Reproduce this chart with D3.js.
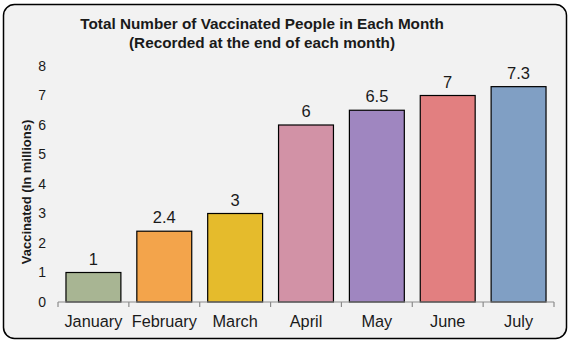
<!DOCTYPE html>
<html>
<head>
<meta charset="utf-8">
<script src="https://cdn.jsdelivr.net/npm/d3@7/dist/d3.min.js"></script>
<style>
  html, body { margin: 0; padding: 0; background: #ffffff; }
  svg { display: block; font-family: Arial, "Liberation Sans", sans-serif; }
</style>
</head>
<body>
<svg id="chart" width="570" height="344"></svg>
<script>
// Monthly totals of vaccinated people (millions)
const months = ["January", "February", "March", "April", "May", "June", "July"];
const vaccinated = [1, 2.4, 3, 6, 6.5, 7, 7.3];
const barColors = ["#a8b593", "#f3a44b", "#e5bb2c", "#d292a6", "#9f86c0", "#e27f80", "#809fc4"];
const yTicks = [0, 1, 2, 3, 4, 5, 6, 7, 8];
const titleLines = ["Total Number of Vaccinated People in Each Month", "(Recorded at the end of each month)"];
const yTitle = "Vaccinated (In millions)";

const svg = d3.select("#chart");

// Rounded frame
svg.append("rect")
  .attr("x", 3.5).attr("y", 4.5)
  .attr("width", 563).attr("height", 334)
  .attr("rx", 11).attr("ry", 11)
  .attr("fill", "#f2f2f2")
  .attr("stroke", "#000").attr("stroke-width", 1.5);

const x = d3.scaleBand()
  .domain(months)
  .range([58, 554])
  .paddingInner(0.225)
  .paddingOuter(0.1125);

const y = d3.scaleLinear().domain([0, 8]).range([302, 66]);

// Title
svg.append("g")
  .selectAll("text")
  .data(titleLines)
  .join("text")
  .attr("x", 262)
  .attr("y", (d, i) => 29 + i * 19)
  .attr("text-anchor", "middle")
  .attr("font-size", 15.3)
  .attr("font-weight", "bold")
  .attr("fill", "#1a1a1a")
  .text(d => d);

// Y axis (labels only)
const yAxis = svg.append("g")
  .attr("transform", "translate(46,0)")
  .call(d3.axisLeft(y).tickValues(yTicks).tickSize(0).tickPadding(0).tickFormat(d3.format("d")));
yAxis.select(".domain").remove();
yAxis.selectAll("text")
  .attr("font-size", 14)
  .attr("fill", "#1a1a1a")
  .attr("font-family", "Arial, 'Liberation Sans', sans-serif");

// Y axis title
svg.append("text")
  .attr("transform", "translate(31,192) rotate(-90)")
  .attr("text-anchor", "middle")
  .attr("font-size", 13)
  .attr("font-weight", "bold")
  .attr("fill", "#1a1a1a")
  .text(yTitle);

// Bars
svg.append("g")
  .selectAll("rect")
  .data(months)
  .join("rect")
  .attr("x", d => x(d))
  .attr("y", (d, i) => y(vaccinated[i]))
  .attr("width", x.bandwidth())
  .attr("height", (d, i) => y(0) - y(vaccinated[i]))
  .attr("fill", (d, i) => barColors[i])
  .attr("stroke", "#000")
  .attr("stroke-width", 1.2);

// Value labels
svg.append("g")
  .selectAll("text")
  .data(months)
  .join("text")
  .attr("x", d => x(d) + x.bandwidth() / 2)
  .attr("y", (d, i) => y(vaccinated[i]) - 8)
  .attr("text-anchor", "middle")
  .attr("font-size", 16.5)
  .attr("fill", "#1a1a1a")
  .text((d, i) => vaccinated[i]);

// X axis with tick marks at band boundaries
const xg = svg.append("g").attr("transform", "translate(0,302)");
xg.append("line")
  .attr("x1", 58).attr("x2", 554)
  .attr("stroke", "#8c8c8c").attr("stroke-width", 1.2);
const bounds = months.map(m => x(m) - x.step() * x.paddingInner() / 2);
bounds.push(554);
bounds[0] = 58;
xg.selectAll("line.tick")
  .data(bounds)
  .join("line")
  .attr("class", "tick")
  .attr("x1", d => d).attr("x2", d => d)
  .attr("y1", 0).attr("y2", 5)
  .attr("stroke", "#8c8c8c").attr("stroke-width", 1.2);

const xAxis = svg.append("g")
  .attr("transform", "translate(0,302)")
  .call(d3.axisBottom(x).tickSize(0).tickPadding(13));
xAxis.select(".domain").remove();
xAxis.selectAll("text")
  .attr("font-size", 16.3)
  .attr("fill", "#1a1a1a")
  .attr("font-family", "Arial, 'Liberation Sans', sans-serif");
</script>
</body>
</html>
